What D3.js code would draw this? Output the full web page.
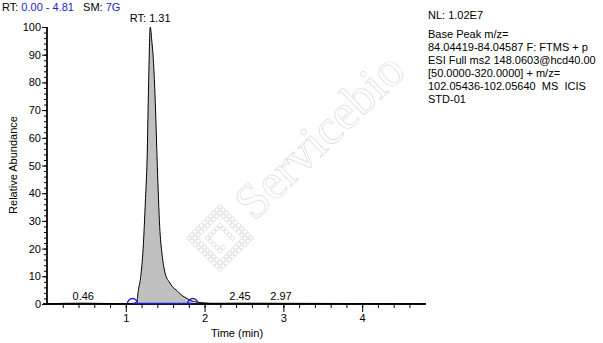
<!DOCTYPE html>
<html>
<head>
<meta charset="utf-8">
<script src="https://cdn.jsdelivr.net/npm/d3@7"></script>
<style>
  body { margin: 0; background: #fff; }
  text { font-family: "Liberation Sans", Arial, sans-serif; font-size: 11px; fill: #000; white-space: pre; }
</style>
</head>
<body>
<div id="chart"></div>
<script>
// chromatogram trace (time in min, relative abundance %)
var times = [0.00, 0.46, 1.00, 1.10, 1.14, 1.16, 1.19, 1.22, 1.25, 1.27, 1.29, 1.31, 1.33, 1.35, 1.37, 1.40,
             1.43, 1.46, 1.50, 1.55, 1.60, 1.65, 1.70, 1.75, 1.80, 1.85, 1.90, 2.00, 2.10, 2.45, 2.97, 4.81];
var abundance = [0.1, 0.3, 0.1, 0.2, 1, 5, 10, 20, 38, 52, 80, 100, 95, 88, 76, 50,
                 28, 18, 11, 8, 6, 4.8, 3.4, 2.4, 1.6, 1.0, 0.7, 0.4, 0.25, 0.3, 0.25, 0.1];

var peakLabels = [{ rt: 0.46, v: 0.3 }, { rt: 1.31, v: 100 }, { rt: 2.45, v: 0.3 }, { rt: 2.97, v: 0.25 }];
var integration = [1.085, 1.85];   // peak start / end markers

var xTicks = [1, 2, 3, 4];
var yTicks = [0, 10, 20, 30, 40, 50, 60, 70, 80, 90, 100];

var infoLines = ["NL: 1.02E7", "Base Peak m/z=", "84.04419-84.04587 F: FTMS + p",
                 "ESI Full ms2 148.0603@hcd40.00", "[50.0000-320.0000] + m/z=",
                 "102.05436-102.05640  MS  ICIS", "STD-01"];

var width = 603, height = 343;
var blue = "#1c1cc8";

var svg = d3.select("#chart").append("svg").attr("width", width).attr("height", height);

var x = d3.scaleLinear().domain([0, 4.81]).range([47, 426]);
var y = d3.scaleLinear().domain([0, 100]).range([304, 27]);

var pts = times.map(function(t, i){ return { t: t, v: abundance[i] }; });

// watermark
var wm = svg.append("g").attr("class", "watermark");
wm.append("text")
  .attr("transform", "translate(254,222) rotate(-44)")
  .style("font-family", "'Liberation Serif','DejaVu Serif',serif")
  .style("font-size", "50px")
  .style("fill", "none")
  .style("stroke", "#dadada")
  .style("stroke-width", 0.7)
  .text("Servicebio");
var logo = wm.append("g").attr("transform", "translate(220,238) rotate(45)");
var ring = function(half, step){
  var out = [];
  for (var s = -half; s <= half; s += step) {
    out.push([s, -half], [s, half]);
    if (s > -half && s < half) out.push([-half, s], [half, s]);
  }
  return out;
};
ring(22, 4.4).concat(ring(17.6, 4.4)).concat(ring(8.8, 4.4).filter(function(p){ return !(p[0] > 0 && p[1] < 4 && p[1] > -8); }))
  .forEach(function(p){
    logo.append("circle").attr("cx", p[0]).attr("cy", p[1]).attr("r", 2.1)
      .style("fill", "none").style("stroke", "#d6d6d6").style("stroke-width", 0.7);
  });

// filled integrated peak
var area = d3.area()
  .x(function(d){ return x(d.t); })
  .y0(y(0))
  .y1(function(d){ return y(d.v); })
  .curve(d3.curveMonotoneX);
var inPeak = pts.filter(function(d){ return d.t >= integration[0] && d.t <= integration[1]; });
svg.append("path")
  .attr("d", area(inPeak))
  .style("fill", "#c0c0c0")
  .style("stroke", "none");

// trace
var line = d3.line()
  .x(function(d){ return x(d.t); })
  .y(function(d){ return y(d.v); })
  .curve(d3.curveMonotoneX);
svg.append("path")
  .attr("d", line(pts))
  .style("fill", "none")
  .style("stroke", "#000")
  .style("stroke-width", 1);

// axes
var xAxis = d3.axisBottom(x).tickValues(d3.range(1, 24).map(function(i){ return i * 0.2; }))
  .tickSize(4).tickFormat("");
svg.append("g").attr("class", "axis x").attr("transform", "translate(0," + y(0) + ")").call(xAxis);
var xMajor = d3.axisBottom(x).tickValues(xTicks).tickSize(8).tickPadding(2).tickFormat(d3.format("d"));
svg.append("g").attr("class", "axis x").attr("transform", "translate(0," + y(0) + ")").call(xMajor);

var yAxis = d3.axisLeft(y).tickValues(d3.range(0, 101, 2)).tickSize(3).tickFormat("");
svg.append("g").attr("class", "axis y").attr("transform", "translate(" + x(0) + ",0)").call(yAxis);
var yMajor = d3.axisLeft(y).tickValues(yTicks).tickSize(5).tickPadding(1).tickFormat(d3.format("d"));
svg.append("g").attr("class", "axis y").attr("transform", "translate(" + x(0) + ",0)").call(yMajor);

svg.selectAll(".axis path.domain").style("stroke", "#000").style("stroke-width", 1.3);
svg.selectAll(".axis line").style("stroke", "#000");
svg.selectAll(".axis text").style("font-family", "'Liberation Sans',Arial,sans-serif").style("font-size", "11px").style("fill", "#000");
svg.selectAll(".axis.x path.domain").attr("d", "M" + (x(0) - 4) + ",0H" + x(4.81));
svg.selectAll(".axis.y path.domain").attr("d", "M0," + y(100) + "V" + y(0));

// baseline + markers
svg.append("line")
  .attr("x1", x(integration[0])).attr("x2", x(integration[1]))
  .attr("y1", y(0) - 0.5).attr("y2", y(0) - 0.5)
  .style("stroke", blue).style("stroke-width", 1.3);
integration.forEach(function(t){
  var cx = x(t), cy = y(0) - 0.5;
  svg.append("path")
    .attr("d", "M" + (cx - 5) + "," + cy + " A5,5 0 0 1 " + (cx + 5) + "," + cy)
    .style("fill", "none").style("stroke", blue).style("stroke-width", 1.3);
});

// peak labels
svg.selectAll("text.peak").data(peakLabels).enter().append("text")
  .attr("class", "peak")
  .attr("x", function(d){ return x(d.rt); })
  .attr("y", function(d){ return d.v > 50 ? y(d.v) - 5 : y(0) - 4; })
  .attr("text-anchor", "middle")
  .text(function(d){ return d.v > 50 ? "RT: " + d.rt.toFixed(2) : d.rt.toFixed(2); });

// axis titles
svg.append("text").attr("x", 237).attr("y", 337).attr("text-anchor", "middle").text("Time (min)");
svg.append("text").attr("transform", "translate(17,165) rotate(-90)").attr("text-anchor", "middle").text("Relative Abundance");

// header
var hdr = svg.append("text").attr("x", 2).attr("y", 11);
hdr.append("tspan").text("RT: ");
hdr.append("tspan").style("fill", blue).text("0.00 - 4.81");
hdr.append("tspan").text("   SM: ");
hdr.append("tspan").style("fill", blue).text("7G");

// info block
svg.selectAll("text.info").data(infoLines).enter().append("text")
  .attr("class", "info")
  .attr("x", 428)
  .attr("y", function(d, i){ return i === 0 ? 19 : 25 + i * 13; })
  .text(function(d){ return d; });
</script>
</body>
</html>
